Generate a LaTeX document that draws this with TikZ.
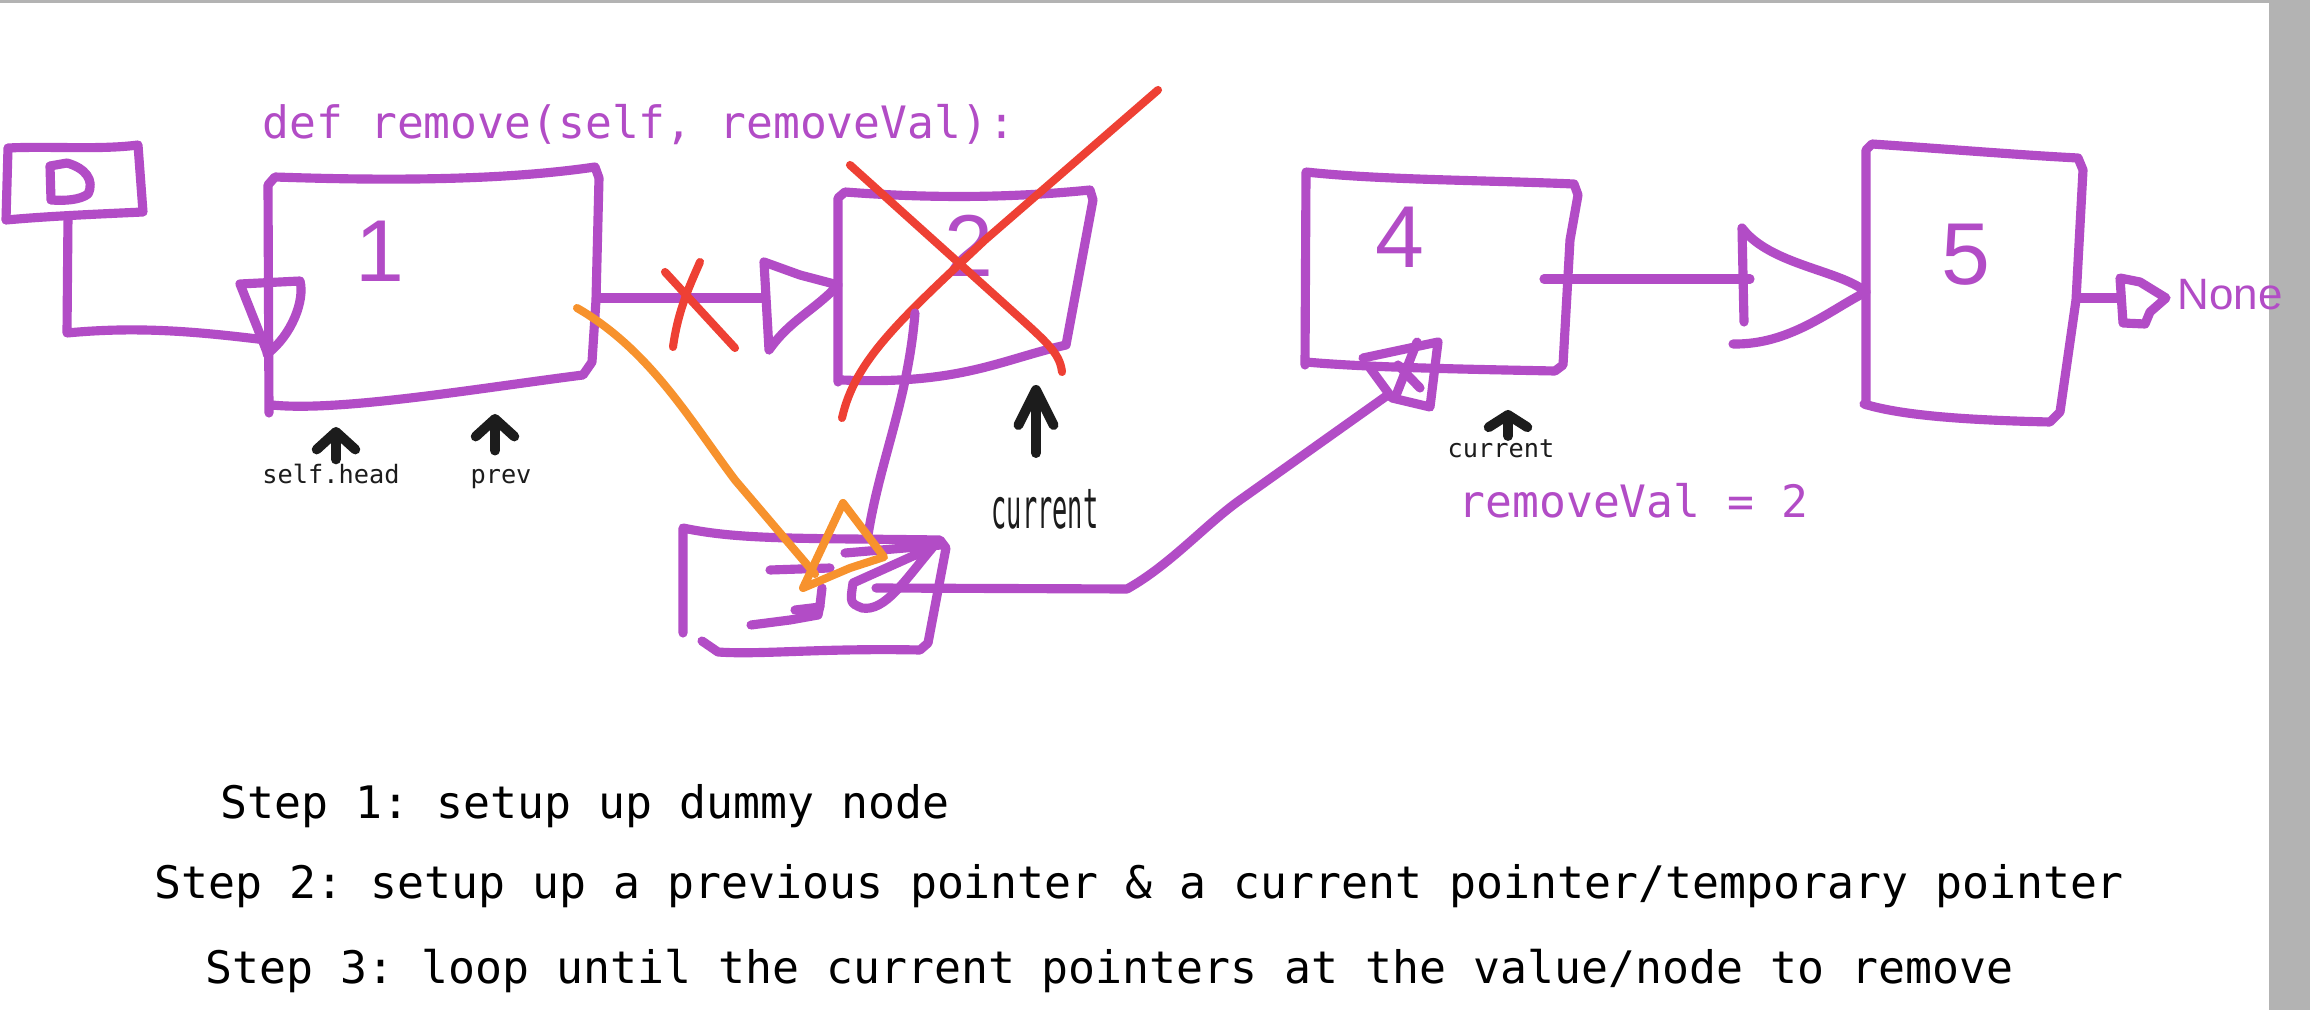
\documentclass[tikz,border=0pt]{standalone}
\usepackage{fontspec}
\usepackage{graphicx}
\setmainfont{Liberation Sans}
\newfontfamily\codefont{DejaVu Sans Mono}
\usetikzlibrary{arrows.meta}
\definecolor{inkpurple}{RGB}{178,76,198}
\definecolor{inkred}{RGB}{238,64,52}
\definecolor{inkorange}{RGB}{247,146,45}
\definecolor{inkblack}{RGB}{28,28,28}
\definecolor{framegray}{RGB}{179,179,179}
\tikzset{
  pen/.style={draw=inkpurple, line width=2.6pt, line cap=round, line join=round},
  strike/.style={draw=inkred, line width=2.3pt, line cap=round, line join=round},
  hilite/.style={draw=inkorange, line width=2.3pt, line cap=round, line join=round},
  pointer/.style={draw=inkblack, line width=2.8pt, line cap=round, -{Straight Barb[round, length=5pt, width=11pt]}},
  digit/.style={text=inkpurple, font=\fontsize{25}{25}\selectfont, anchor=base, inner sep=0pt},
  codetext/.style={text=inkpurple, font=\codefont\fontsize{12.7}{14}\selectfont, anchor=base west, inner sep=0pt},
  stepline/.style={text=black, font=\codefont\fontsize{12.75}{14}\selectfont, anchor=base west, inner sep=0pt},
  ptrlabel/.style={text=inkblack, font=\codefont\fontsize{7.2}{8}\selectfont, anchor=base, inner sep=1pt},
}
\frenchspacing
\begin{document}
\begin{tikzpicture}[x=0.1mm,y=-0.1mm]
\useasboundingbox (0,0) rectangle (2310,1010);
\fill[white] (0,0) rectangle (2310,1010);
\fill[framegray] (2269,0) rectangle (2310,1010);
\fill[framegray] (0,0) rectangle (2269,3);

\node[codetext] (sig) at (262,139) {def remove(self, removeVal):};
\node[codetext] (val) at (1458,518) {removeVal = 2};

\draw[pen] (6,220) -- (8,148) .. controls (50,146) and (100,150) .. (138,145) -- (143,212) .. controls (100,214) and (50,216) .. (6,220);
\draw[pen] (51,200) -- (50,166) -- (67,163) .. controls (85,168) and (95,180) .. (88,194) .. controls (80,200) and (65,201) .. (51,200);
\coordinate (dout) at (68,216);
\coordinate (n1in) at (266,340);
\draw[pen] (dout) -- (67,333) .. controls (140,326) and (200,332) .. (n1in);
\draw[pen] (267,352) -- (240,284) -- (300,281) .. controls (305,300) and (292,335) .. (267,354);

\draw[pen] (269,413) -- (268,185) -- (275,177) .. controls (420,182) and (520,178) .. (595,167) -- (599,178) -- (596,300) -- (592,362) -- (583,375) .. controls (480,388) and (340,412) .. (272,405);
\node[digit] (n1) at (380,282) {1};

\coordinate (n1out) at (598,298);
\coordinate (n2in) at (765,298);
\draw[pen] (n1out) -- (n2in);
\draw[pen] (769,350) -- (764,262) -- (800,275) -- (838,285) .. controls (815,310) and (790,320) .. (769,350);
\draw[strike] (673,347) .. controls (678,310) and (690,285) .. (700,262);
\draw[strike] (665,272) -- (735,348);

\draw[pen] (838,382) -- (838,198) -- (845,192) .. controls (950,200) and (1030,196) .. (1090,190) -- (1093,200) -- (1066,345) .. controls (1000,360) and (960,385) .. (842,380);
\node[digit] (n2) at (969,277) {2};
\draw[strike] (850,165) -- (1020,318) .. controls (1050,345) and (1060,355) .. (1062,372);
\draw[strike] (1158,90) -- (985,240) .. controls (900,320) and (855,360) .. (842,418);

\coordinate (n2down) at (915,313);
\coordinate (tmpin) at (868,535);
\draw[pen] (n2down) .. controls (908,400) and (880,460) .. (tmpin);

\draw[pen] (683,633) -- (683,528) .. controls (740,540) and (800,538) .. (940,540) -- (946,548) -- (928,643) -- (920,650) .. controls (820,648) and (760,655) .. (718,652) -- (702,641);
\draw[pen] (770,570) -- (830,568);
\draw[pen] (751,625) -- (790,620) -- (818,615) -- (820,605) -- (822,588);
\draw[pen] (795,610) -- (820,607);
\draw[pen] (845,553) -- (941,545);
\draw[pen] (853,583) -- (933,547) .. controls (905,580) and (885,612) .. (862,608) .. controls (850,603) .. (853,583);

\coordinate (prevout) at (577,308);
\coordinate (tmptip) at (815,574);
\draw[hilite] (prevout) .. controls (650,350) and (690,420) .. (735,480) -- (tmptip);
\draw[hilite] (803,588) -- (843,503) -- (884,557) -- (850,568) -- cycle;

\coordinate (tmpout) at (876,588);
\coordinate (n4in) at (1385,397);
\draw[pen] (tmpout) -- (1127,589) .. controls (1170,565) and (1205,525) .. (1240,500) -- (n4in);
\draw[pen] (1363,358) -- (1410,348) -- (1438,342) -- (1430,407) -- (1392,398) -- (1370,368);
\draw[pen] (1417,342) -- (1395,398);
\draw[pen] (1398,365) -- (1420,388);

\draw[pen] (1305,365) -- (1306,172) .. controls (1380,180) and (1480,180) .. (1574,184) -- (1578,195) -- (1570,240) -- (1563,365) -- (1555,371) .. controls (1450,369) and (1360,367) .. (1306,362);
\node[digit] (n4) at (1400,268) {4};

\coordinate (n4out) at (1544,279);
\coordinate (n5in) at (1750,279);
\draw[pen] (n4out) -- (n5in);
\draw[pen] (1744,322) -- (1742,228) .. controls (1770,265) and (1840,270) .. (1866,292) .. controls (1830,310) and (1790,345) .. (1733,344);

\draw[pen] (1866,405) -- (1866,150) -- (1872,144) .. controls (1960,150) and (2020,155) .. (2078,158) -- (2083,170) -- (2076,300) -- (2060,412) -- (2050,422) .. controls (1960,420) and (1900,415) .. (1864,404);
\node[digit] (n5) at (1966,285) {5};

\coordinate (n5out) at (2078,298);
\coordinate (nonein) at (2120,298);
\draw[pen] (n5out) -- (nonein);
\draw[pen] (2123,323) -- (2120,278) -- (2140,282) -- (2166,298) -- (2150,312) -- (2145,324) -- cycle;
\node[text=inkpurple, font=\fontsize{12.5}{14}\selectfont, anchor=base west, inner sep=0pt] (none) at (2177,310) {None};

\node[ptrlabel] (headlbl) at (331,483) {self.head};
\node[ptrlabel] (prevlbl) at (501,483) {prev};
\node[ptrlabel] (cur2lbl) at (1045,528) {\scalebox{1}[2.2]{current}};
\node[ptrlabel] (cur4lbl) at (1501,458) {current};
\coordinate (headtip) at (336,427);
\coordinate (prevtip) at (495,414);
\coordinate (cur2tip) at (1036,385);
\coordinate (cur4tip) at (1508,410);
\draw[pointer] (headlbl.north -| headtip) -- (headtip);
\draw[pointer, shorten <=4pt] (prevlbl.north -| prevtip) -- (prevtip);
\draw[pointer, -{Straight Barb[round, length=10pt, width=10pt]}, shorten <=9pt] (cur2lbl.north -| cur2tip) -- (cur2tip);
\draw[pointer, -{Straight Barb[round, length=3.5pt, width=11pt]}] (cur4lbl.north -| cur4tip) -- (cur4tip);

\node[stepline] (step1) at (220,818) {Step 1: setup up dummy node};
\node[stepline] (step2) at (154,898) {Step 2: setup up a previous pointer \& a current pointer/temporary pointer};
\node[stepline] (step3) at (205,983) {Step 3: loop until the current pointers at the value/node to remove};
\end{tikzpicture}
\end{document}
